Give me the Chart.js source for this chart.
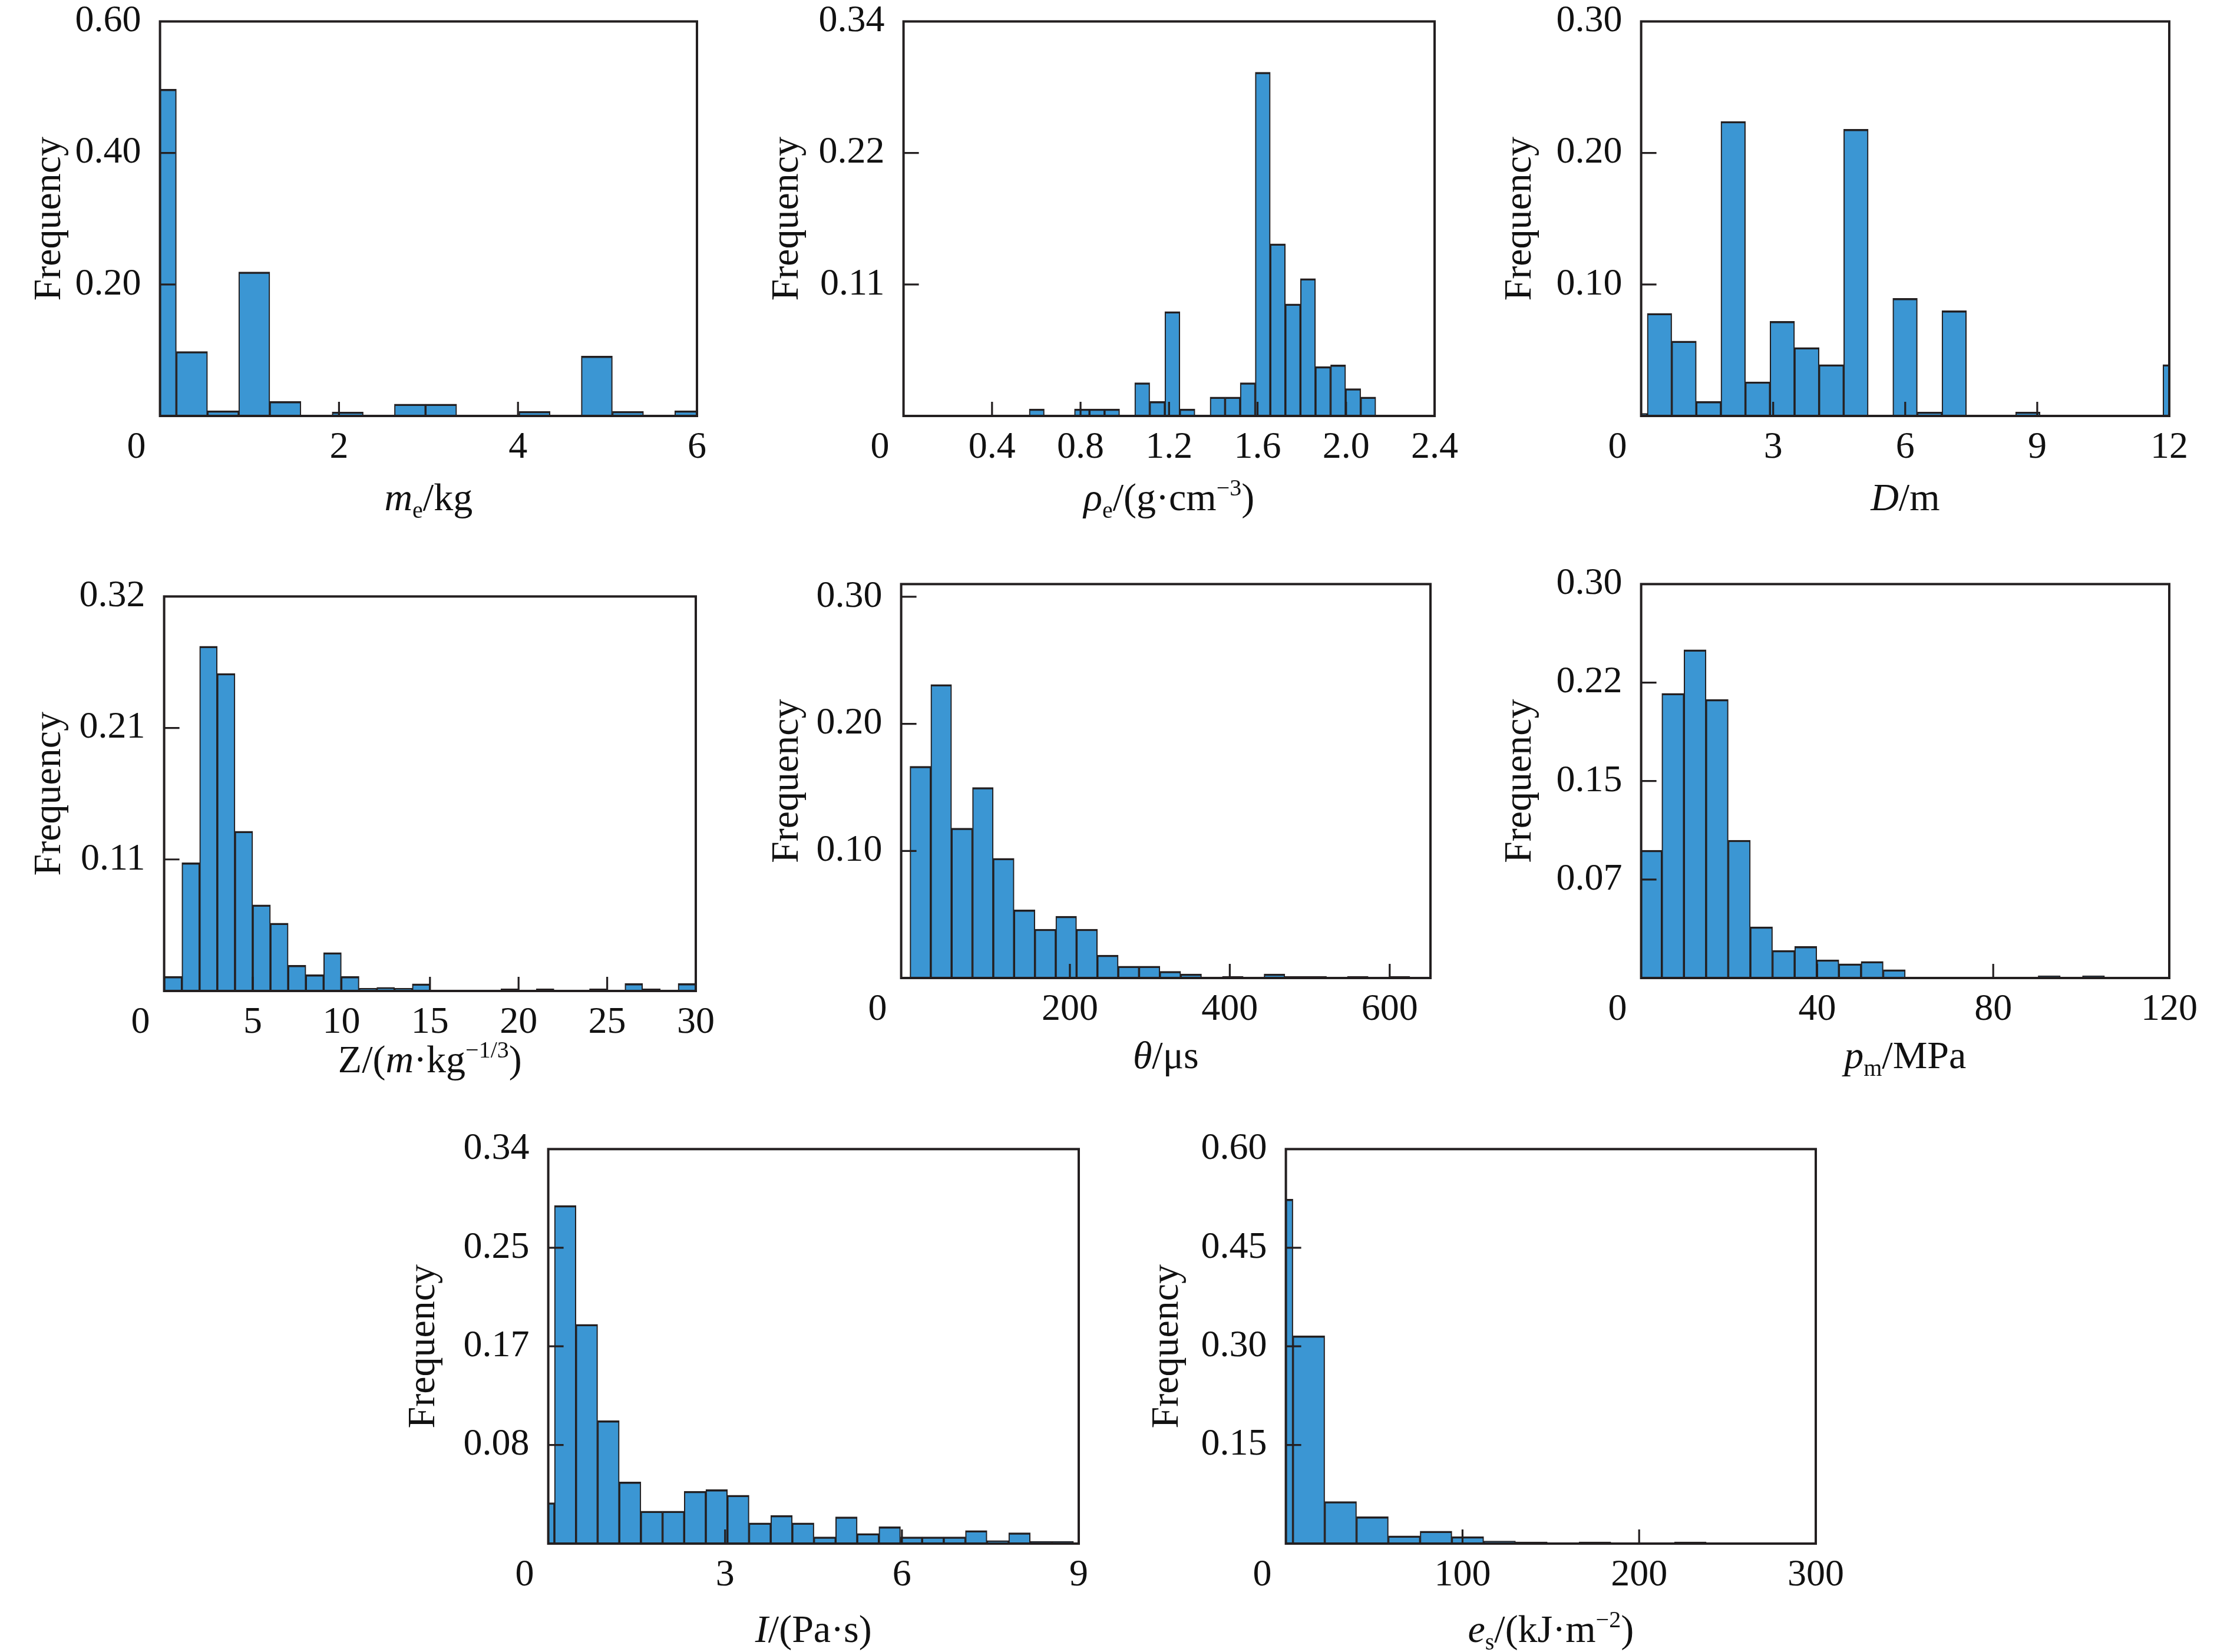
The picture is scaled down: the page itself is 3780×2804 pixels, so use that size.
<!DOCTYPE html>
<html>
<head>
<meta charset="utf-8">
<script src="https://cdn.jsdelivr.net/npm/chart.js@4.4.1/dist/chart.umd.min.js"></script>
<style>
  html, body { margin: 0; padding: 0; background: #fff; }
  body { width: 3780px; height: 2804px; position: relative; overflow: hidden; }
  canvas { position: absolute; }
</style>
</head>
<body>
<script>
// histogram data: [first bin left edge, bin width] + frequencies
const meBin = [-0.165, 0.348];
const meFreq = [0.497, 0.098, 0.008, 0.219, 0.022, 0, 0.006, 0, 0.018, 0.018, 0, 0, 0.007, 0, 0.091, 0.007, 0, 0.008];
const meXTicks = [0, 2, 4, 6];
const meXLabels = ['0', '2', '4', '6'];
const meYTicks = [0.2, 0.4, 0.6];
const meYLabels = ['0.20', '0.40', '0.60'];

const rhoBin = [0.568, 0.0681];
const rhoFreq = [0.006, 0, 0, 0.006, 0.006, 0.006, 0, 0.0286, 0.0125, 0.090, 0.006, 0, 0.0163, 0.0163, 0.0286, 0.2963, 0.1484, 0.0965, 0.1184, 0.0426, 0.044, 0.0236, 0.0163];
const rhoXTicks = [0, 0.4, 0.8, 1.2, 1.6, 2.0, 2.4];
const rhoXLabels = ['0', '0.4', '0.8', '1.2', '1.6', '2.0', '2.4'];
const rhoYTicks = [0.1133, 0.2267, 0.34];
const rhoYLabels = ['0.11', '0.22', '0.34'];

const dBin = [-0.42, 0.558];
const dFreq = [0.002, 0.078, 0.057, 0.011, 0.224, 0.026, 0.072, 0.052, 0.039, 0.218, 0, 0.0895, 0.003, 0.080, 0, 0, 0.003, 0, 0, 0, 0, 0, 0.039];
const dXTicks = [0, 3, 6, 9, 12];
const dXLabels = ['0', '3', '6', '9', '12'];
const dYTicks = [0.1, 0.2, 0.3];
const dYLabels = ['0.10', '0.20', '0.30'];

const zBin = [0, 1.0];
const zFreq = [0.0118, 0.104, 0.2796, 0.2576, 0.1296, 0.0699, 0.055, 0.0209, 0.0132, 0.0311, 0.0118, 0.0022, 0.003, 0.0022, 0.0058, 0, 0, 0, 0, 0.0017, 0, 0.0017, 0, 0, 0.0017, 0, 0.006, 0.0017, 0, 0.006];
const zXTicks = [0, 5, 10, 15, 20, 25, 30];
const zXLabels = ['0', '5', '10', '15', '20', '25', '30'];
const zYTicks = [0.1067, 0.2133, 0.32];
const zYLabels = ['0.11', '0.21', '0.32'];

const thBin = [0, 26.05];
const thFreq = [0.1667, 0.231, 0.118, 0.150, 0.0942, 0.0536, 0.0385, 0.0486, 0.0385, 0.018, 0.0093, 0.0093, 0.0053, 0.0032, 0, 0.0013, 0, 0.0032, 0.0013, 0.0013, 0, 0.0013, 0, 0.0013];
const thXTicks = [-11, 200, 400, 600];
const thXLabels = ['0', '200', '400', '600'];
const thYTicks = [0.1, 0.2, 0.3];
const thYLabels = ['0.10', '0.20', '0.30'];

const pmBin = [-0.33, 5.03];
const pmFreq = [0.0973, 0.2168, 0.25, 0.2122, 0.105, 0.039, 0.021, 0.0241, 0.0139, 0.0108, 0.0126, 0.0064, 0, 0, 0, 0, 0, 0, 0.0018, 0, 0.0018, 0, 0, 0];
const pmXTicks = [0, 40, 80, 120];
const pmXLabels = ['0', '40', '80', '120'];
const pmYTicks = [0.075, 0.15, 0.225, 0.30];
const pmYLabels = ['0.07', '0.15', '0.22', '0.30'];

const iBin = [-0.263, 0.367];
const iFreq = [0.0353, 0.2914, 0.189, 0.106, 0.0532, 0.028, 0.028, 0.0451, 0.0466, 0.0417, 0.0179, 0.0243, 0.0179, 0.0058, 0.0231, 0.0087, 0.0145, 0.0058, 0.0058, 0.0058, 0.0113, 0.0026, 0.0093, 0.002, 0.002, 0];
const iXTicks = [0, 3, 6, 9];
const iXLabels = ['0', '3', '6', '9'];
const iYTicks = [0.085, 0.17, 0.255, 0.34];
const iYLabels = ['0.08', '0.17', '0.25', '0.34'];

const esBin = [-14.0, 18.0];
const esFreq = [0.524, 0.316, 0.064, 0.041, 0.0118, 0.019, 0.0107, 0.004, 0.0026, 0, 0.0026, 0, 0, 0.0026, 0, 0, 0, 0];
const esXTicks = [0, 100, 200, 300];
const esXLabels = ['0', '100', '200', '300'];
const esYTicks = [0.15, 0.30, 0.45, 0.60];
const esYLabels = ['0.15', '0.30', '0.45', '0.60'];

// axis titles (i = italic, sub / sup = sub/superscript)
const meTitle = [{t: 'm', i: 1}, {t: 'e', sub: 1}, {t: '/kg'}];
const rhoTitle = [{t: 'ρ', i: 1}, {t: 'e', sub: 1}, {t: '/(g·cm'}, {t: '−3', sup: 1}, {t: ')'}];
const dTitle = [{t: 'D', i: 1}, {t: '/m'}];
const zTitle = [{t: 'Z/('}, {t: 'm', i: 1}, {t: '·kg'}, {t: '−1/3', sup: 1}, {t: ')'}];
const thTitle = [{t: 'θ', i: 1}, {t: '/μs'}];
const pmTitle = [{t: 'p', i: 1}, {t: 'm', sub: 1}, {t: '/MPa'}];
const iTitle = [{t: 'I', i: 1}, {t: '/(Pa·s)'}];
const esTitle = [{t: 'e', i: 1}, {t: 's', sub: 1}, {t: '/(kJ·m'}, {t: '−2', sup: 1}, {t: ')'}];

const FONT = "'Liberation Serif', 'Times New Roman', serif";
const BAR_FILL = '#3b96d3';
const INK = '#231f20';
const PAD_TOP = 60, PAD_RIGHT = 90, X_AXIS_H = 210;

// frame = [left, top, right, bottom] of the plot box in page pixels
const panels = [
  {bin: meBin, freq: meFreq, xMin: 0, xMax: 6, yMax: 0.60, xt: meXTicks, xl: meXLabels, yt: meYTicks, yl: meYLabels, title: meTitle,
   frame: [272, 34, 1184, 706], titleX: 85, titleDy: 140},
  {bin: rhoBin, freq: rhoFreq, xMin: 0, xMax: 2.4, yMax: 0.34, xt: rhoXTicks, xl: rhoXLabels, yt: rhoYTicks, yl: rhoYLabels, title: rhoTitle,
   frame: [1534, 34, 2436, 706], titleX: 1337, titleDy: 140},
  {bin: dBin, freq: dFreq, xMin: 0, xMax: 12, yMax: 0.30, xt: dXTicks, xl: dXLabels, yt: dYTicks, yl: dYLabels, title: dTitle,
   frame: [2786, 34, 3683, 706], titleX: 2581, titleDy: 140},
  {bin: zBin, freq: zFreq, xMin: 0, xMax: 30, yMax: 0.32, xt: zXTicks, xl: zXLabels, yt: zYTicks, yl: zYLabels, title: zTitle,
   frame: [279, 1010, 1182, 1682], titleX: 85, titleDy: 118},
  {bin: thBin, freq: thFreq, xMin: -11, xMax: 651, yMax: 0.31, xt: thXTicks, xl: thXLabels, yt: thYTicks, yl: thYLabels, title: thTitle,
   frame: [1530, 989, 2429, 1660], titleX: 1337, titleDy: 133},
  {bin: pmBin, freq: pmFreq, xMin: 0, xMax: 120, yMax: 0.30, xt: pmXTicks, xl: pmXLabels, yt: pmYTicks, yl: pmYLabels, title: pmTitle,
   frame: [2786, 989, 3683, 1660], titleX: 2581, titleDy: 133},
  {bin: iBin, freq: iFreq, xMin: 0, xMax: 9, yMax: 0.34, xt: iXTicks, xl: iXLabels, yt: iYTicks, yl: iYLabels, title: iTitle,
   frame: [931, 1948, 1832, 2620], titleX: 720, titleDy: 147},
  {bin: esBin, freq: esFreq, xMin: 0, xMax: 300, yMax: 0.60, xt: esXTicks, xl: esXLabels, yt: esYTicks, yl: esYLabels, title: esTitle,
   frame: [2183, 1948, 3083, 2620], titleX: 1982, titleDy: 147}
];

// inward tick marks + closed box around the plot area
const frameTicks = {
  id: 'frameTicks',
  afterDatasetsDraw(chart) {
    const {ctx, chartArea: a} = chart;
    const x = chart.scales.x, y = chart.scales.y;
    ctx.save();
    ctx.strokeStyle = INK;
    ctx.lineWidth = 3.2;
    ctx.beginPath();
    x.ticks.forEach(t => {
      if (t.value <= x.min || t.value >= x.max) return;
      const px = x.getPixelForValue(t.value);
      ctx.moveTo(px, a.bottom);
      ctx.lineTo(px, a.bottom - 24);
    });
    y.ticks.forEach(t => {
      if (t.value <= y.min || t.value >= y.max) return;
      const py = y.getPixelForValue(t.value);
      ctx.moveTo(a.left, py);
      ctx.lineTo(a.left + 26, py);
    });
    ctx.stroke();
    ctx.lineWidth = 4;
    ctx.strokeRect(a.left, a.top, a.right - a.left, a.bottom - a.top);
    ctx.restore();
  }
};

// x-axis title with italic / sub / sup pieces
const richTitle = {
  id: 'richTitle',
  afterDraw(chart, args, opts) {
    const {ctx, chartArea: a} = chart;
    const size = 66;
    ctx.save();
    const pieces = opts.parts.map(p => {
      const small = p.sub || p.sup;
      const font = (p.i ? 'italic ' : '') + (small ? Math.round(size * 0.6) : size) + 'px ' + FONT;
      ctx.font = font;
      return {t: p.t, font, w: ctx.measureText(p.t).width, dy: p.sub ? size * 0.2 : (p.sup ? -size * 0.38 : 0)};
    });
    const total = pieces.reduce((s, p) => s + p.w, 0);
    let cx = (a.left + a.right) / 2 - total / 2;
    const base = a.bottom + opts.dy + size * 0.3;
    ctx.fillStyle = '#111';
    ctx.textAlign = 'left';
    ctx.textBaseline = 'alphabetic';
    pieces.forEach(p => {
      ctx.font = p.font;
      ctx.fillText(p.t, cx, base + p.dy);
      cx += p.w;
    });
    ctx.restore();
  }
};

function binPoints(bin, freq) {
  const pts = [];
  freq.forEach((f, k) => {
    if (f > 0) pts.push({x: bin[0] + bin[1] * (k + 0.5), y: f});
  });
  return pts;
}

function makePanel(p) {
  const [fl, ft, fr, fb] = p.frame;
  const yAxisW = fl - p.titleX + 66 * 1.2 / 2;
  const canvas = document.createElement('canvas');
  canvas.width = yAxisW + (fr - fl) + PAD_RIGHT;
  canvas.height = PAD_TOP + (fb - ft) + X_AXIS_H;
  canvas.style.left = (fl - yAxisW) + 'px';
  canvas.style.top = (ft - PAD_TOP) + 'px';
  canvas.style.width = canvas.width + 'px';
  canvas.style.height = canvas.height + 'px';
  document.body.appendChild(canvas);

  new Chart(canvas.getContext('2d'), {
    type: 'bar',
    data: {
      datasets: [{
        data: binPoints(p.bin, p.freq),
        backgroundColor: BAR_FILL,
        borderColor: INK,
        borderWidth: {top: 3.5, left: 2.1, right: 2.1, bottom: 0},
        borderSkipped: 'start',
        barPercentage: 1,
        categoryPercentage: 1
      }]
    },
    options: {
      responsive: false,
      animation: false,
      devicePixelRatio: 1,
      layout: {padding: {top: PAD_TOP, right: PAD_RIGHT, left: 0, bottom: 0}},
      plugins: {
        legend: {display: false},
        tooltip: {enabled: false},
        richTitle: {parts: p.title, dy: p.titleDy}
      },
      scales: {
        x: {
          type: 'linear',
          min: p.xMin,
          max: p.xMax,
          offset: false,
          grid: {display: false, offset: false},
          border: {display: false},
          afterBuildTicks: s => { s.ticks = p.xt.map(v => ({value: v})); },
          afterFit: s => { s.height = X_AXIS_H; },
          ticks: {
            autoSkip: false,
            maxRotation: 0,
            minRotation: 0,
            padding: 8,
            color: '#111',
            font: {family: FONT, size: 64},
            // the corner "0" sits left of the origin
            callback: (v, i) => i === 0 ? p.xl[0] + '\u00A0\u00A0\u00A0\u00A0\u00A0' : p.xl[i]
          }
        },
        y: {
          min: 0,
          max: p.yMax,
          grid: {display: false},
          border: {display: false},
          afterBuildTicks: s => { s.ticks = p.yt.map(v => ({value: v})); },
          afterFit: s => { s.width = yAxisW; },
          ticks: {
            padding: 24,
            color: '#111',
            font: {family: FONT, size: 64},
            callback: (v, i) => p.yl[i]
          },
          title: {
            display: true,
            text: 'Frequency',
            color: '#111',
            padding: {top: 0, bottom: 0},
            font: {family: FONT, size: 66, lineHeight: 1.2}
          }
        }
      }
    },
    plugins: [frameTicks, richTitle]
  });
}

panels.forEach(makePanel);
</script>
</body>
</html>
